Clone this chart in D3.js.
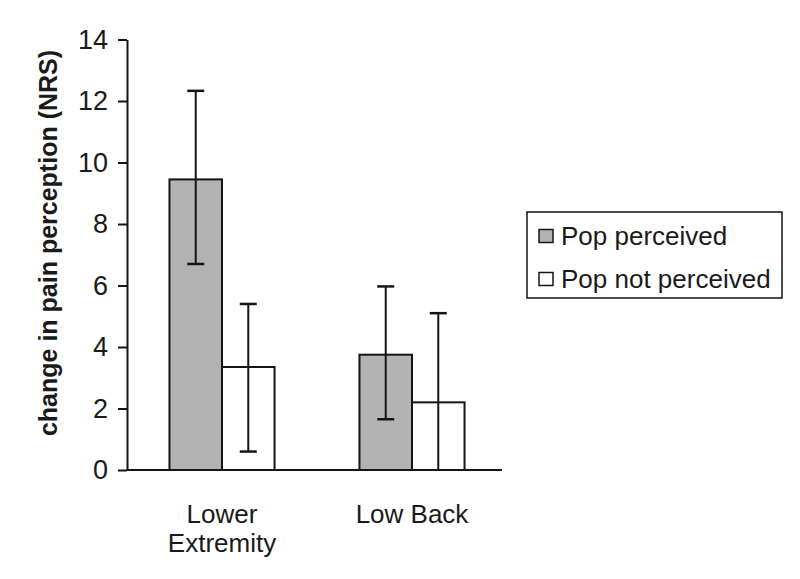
<!DOCTYPE html>
<html>
<head>
<meta charset="utf-8">
<script src="https://cdn.jsdelivr.net/npm/d3@7"></script>
<style>
  body { margin: 0; background: #fff; }
  text { font-family: "Liberation Sans", Arial, sans-serif; fill: #1a1a1a; }
</style>
</head>
<body>
<div id="chart"></div>
<script>
// values
var categories = ["Lower Extremity", "Low Back"];
var categoryLines = [["Lower", "Extremity"], ["Low Back"]];
var seriesNames = ["Pop perceived", "Pop not perceived"];
var seriesColors = ["#b3b3b3", "#ffffff"];
var means = [[9.45, 3.35], [3.75, 2.2]];      // [category][series]
var errLow = [[6.7, 0.6], [1.65, -0.7]];
var errHigh = [[12.33, 5.4], [5.97, 5.1]];
var yTicks = [0, 2, 4, 6, 8, 10, 12, 14];

var width = 800, height = 579;

var svg = d3.select("#chart").append("svg")
  .attr("width", width)
  .attr("height", height);

var y = d3.scaleLinear().domain([0, 14]).range([470, 39.5]);
var x = d3.scaleBand().domain(categories).range([127, 507]).paddingInner(0.447).paddingOuter(0.2235);
var xs = d3.scaleBand().domain(seriesNames).range([0, x.bandwidth()]);

// bars
var groups = svg.append("g").selectAll("g")
  .data(categories)
  .enter().append("g")
    .attr("transform", function(d) { return "translate(" + x(d) + ",0)"; });

groups.each(function(cat, ci) {
  var g = d3.select(this);
  seriesNames.forEach(function(s, si) {
    g.append("rect")
      .attr("x", xs(s))
      .attr("y", y(means[ci][si]))
      .attr("width", xs.bandwidth())
      .attr("height", y(0) - y(means[ci][si]))
      .attr("fill", seriesColors[si])
      .attr("stroke", "#151515")
      .attr("stroke-width", 2);
  });
  // error bars
  seriesNames.forEach(function(s, si) {
    var cx = xs(s) + xs.bandwidth() / 2;
    var lo = Math.max(errLow[ci][si], 0);
    g.append("line")
      .attr("x1", cx).attr("x2", cx)
      .attr("y1", y(errHigh[ci][si])).attr("y2", y(lo))
      .attr("stroke", "#151515").attr("stroke-width", 2);
    g.append("line")
      .attr("x1", cx - 8.5).attr("x2", cx + 8.5)
      .attr("y1", y(errHigh[ci][si])).attr("y2", y(errHigh[ci][si]))
      .attr("stroke", "#151515").attr("stroke-width", 2.5);
    if (errLow[ci][si] > 0) {
      g.append("line")
        .attr("x1", cx - 8.5).attr("x2", cx + 8.5)
        .attr("y1", y(errLow[ci][si])).attr("y2", y(errLow[ci][si]))
        .attr("stroke", "#151515").attr("stroke-width", 2.5);
    }
  });
});

// y axis
var yAxis = svg.append("g")
  .attr("transform", "translate(127,0)")
  .call(d3.axisLeft(y).tickValues(yTicks).tickSize(9).tickSizeOuter(0).tickPadding(10));
yAxis.select(".domain").attr("stroke", "#151515").attr("stroke-width", 2);
yAxis.selectAll(".tick line").attr("stroke", "#151515").attr("stroke-width", 2);
yAxis.selectAll(".tick text")
  .attr("font-size", 27)
  .attr("font-family", "Liberation Sans, Arial, sans-serif")
  .attr("fill", "#1a1a1a");

// x axis line
svg.append("line")
  .attr("x1", 127).attr("x2", 502)
  .attr("y1", y(0)).attr("y2", y(0))
  .attr("stroke", "#151515").attr("stroke-width", 2);

// category labels
categories.forEach(function(c, i) {
  var t = svg.append("text")
    .attr("text-anchor", "middle")
    .attr("font-size", 26)
    .attr("y", 523);
  categoryLines[i].forEach(function(line, li) {
    t.append("tspan")
      .attr("x", x(c) + x.bandwidth() / 2)
      .attr("dy", li === 0 ? 0 : 29)
      .text(line);
  });
});

// y title
svg.append("text")
  .attr("transform", "translate(57,243) rotate(-90)")
  .attr("text-anchor", "middle")
  .attr("font-size", 25)
  .attr("font-weight", "bold")
  .text("change in pain perception (NRS)");

// legend
var legend = svg.append("g");
legend.append("rect")
  .attr("x", 527).attr("y", 212)
  .attr("width", 255).attr("height", 86)
  .attr("fill", "none")
  .attr("stroke", "#151515").attr("stroke-width", 1.5);

seriesNames.forEach(function(s, i) {
  var cy = 236 + i * 43;
  legend.append("rect")
    .attr("x", 539).attr("y", cy - 6.5)
    .attr("width", 14).attr("height", 13)
    .attr("fill", seriesColors[i])
    .attr("stroke", "#151515").attr("stroke-width", 1.5);
  legend.append("text")
    .attr("x", 561).attr("y", cy + 9)
    .attr("font-size", 26)
    .text(s);
});
</script>
</body>
</html>
